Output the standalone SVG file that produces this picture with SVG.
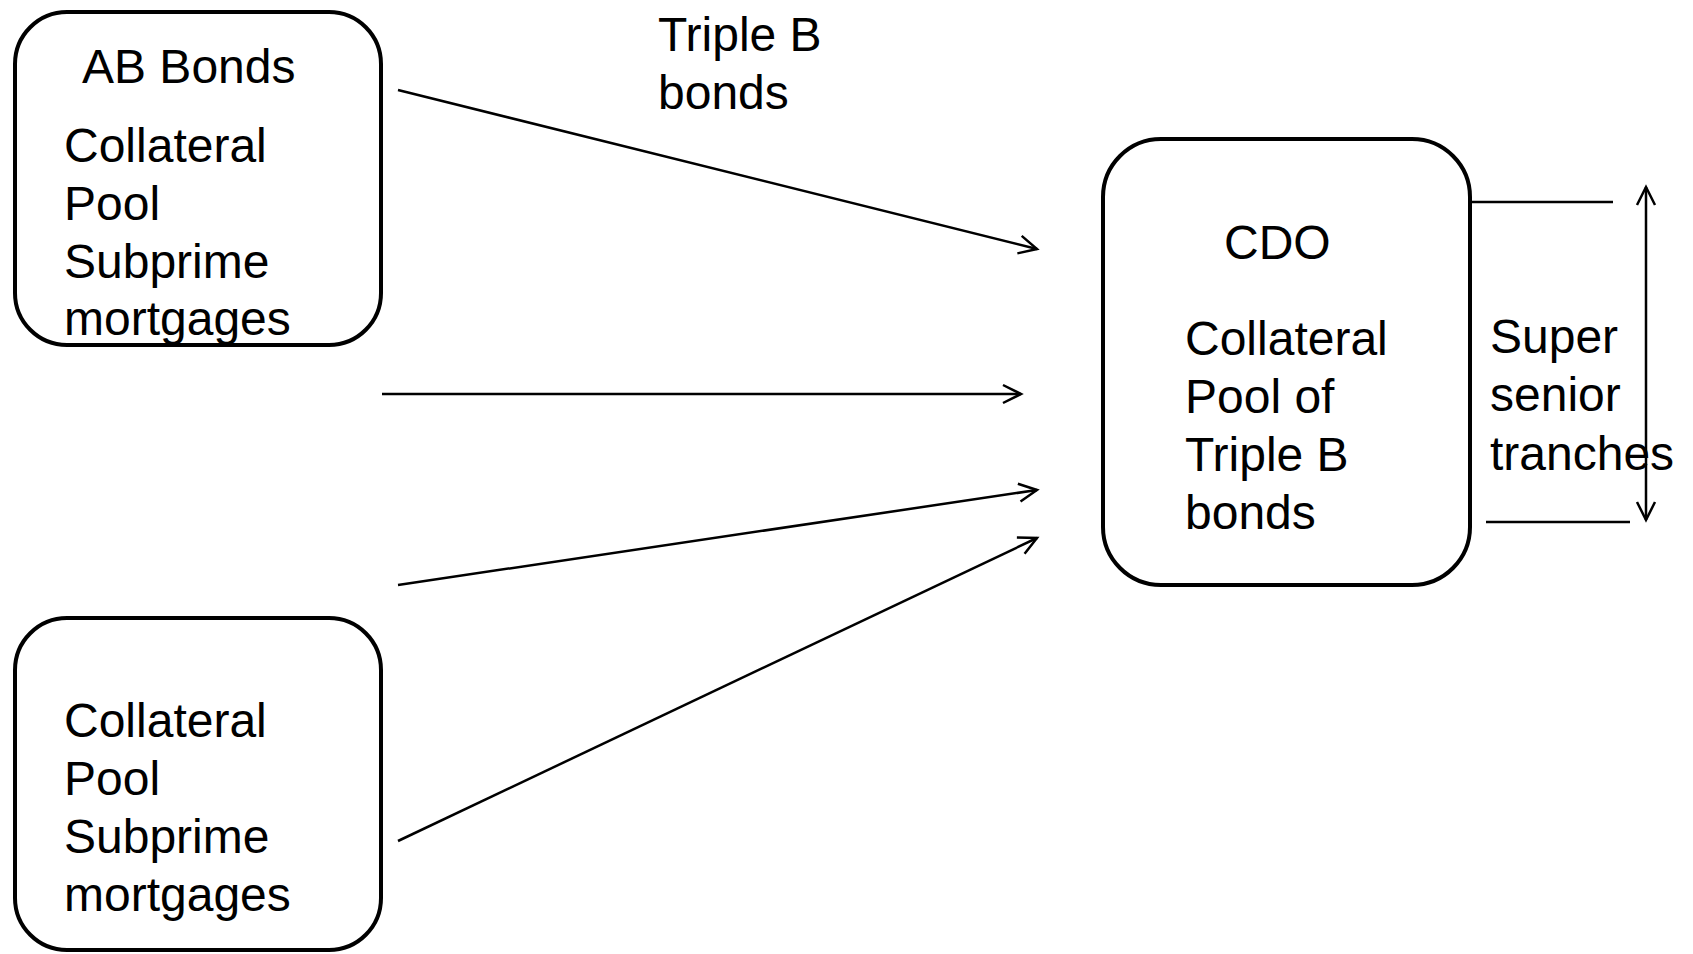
<svg xmlns="http://www.w3.org/2000/svg" width="1693" height="954" viewBox="0 0 1693 954">
<style>
.box{fill:#fff;stroke:#000;stroke-width:4}
.t{font-family:"Liberation Sans",Arial,sans-serif;font-size:48px;fill:#000}
.c{stroke:#000;stroke-width:2.5;fill:none}
</style>
<defs>
<marker id="ah" markerUnits="userSpaceOnUse" viewBox="-20 -12 24 24" refX="0" refY="0" markerWidth="24" markerHeight="24" orient="auto-start-reverse">
<path d="M-18,-9 L0,0 L-18,9" fill="none" stroke="#000" stroke-width="2.5" stroke-linejoin="miter"/>
</marker>
</defs>
<rect width="1693" height="954" fill="#fff"/>
<g id="ab-pool">
<rect class="box" x="15" y="12" width="366" height="333" rx="52" ry="52"/>
<text class="t" x="82" y="83">AB Bonds</text>
<text class="t" x="64" y="162">Collateral</text>
<text class="t" x="64" y="220">Pool</text>
<text class="t" x="64" y="278">Subprime</text>
<text class="t" x="64" y="335">mortgages</text>
</g>
<g id="pool2">
<rect class="box" x="15" y="618" width="366" height="332" rx="52" ry="52"/>
<text class="t" x="64" y="737">Collateral</text>
<text class="t" x="64" y="795">Pool</text>
<text class="t" x="64" y="853">Subprime</text>
<text class="t" x="64" y="911">mortgages</text>
</g>
<g id="cdo">
<rect class="box" x="1103" y="139" width="367" height="446" rx="58" ry="58"/>
<text class="t" x="1224" y="259">CDO</text>
<text class="t" x="1185" y="355">Collateral</text>
<text class="t" x="1185" y="413">Pool of</text>
<text class="t" x="1185" y="471">Triple B</text>
<text class="t" x="1185" y="529">bonds</text>
</g>
<g id="labels">
<text class="t" x="658" y="51">Triple B</text>
<text class="t" x="658" y="109">bonds</text>
<text class="t" x="1490" y="353">Super</text>
<text class="t" x="1490" y="411">senior</text>
<text class="t" x="1490" y="470">tranches</text>
</g>
<g id="connectors">
<line class="c" x1="398" y1="90" x2="1037" y2="249" marker-end="url(#ah)"/>
<line class="c" x1="382" y1="394" x2="1021" y2="394" marker-end="url(#ah)"/>
<line class="c" x1="398" y1="585" x2="1037" y2="490" marker-end="url(#ah)"/>
<line class="c" x1="398" y1="841" x2="1037" y2="538" marker-end="url(#ah)"/>
<line class="c" x1="1472" y1="202" x2="1613" y2="202"/>
<line class="c" x1="1486" y1="522" x2="1630" y2="522"/>
<line class="c" x1="1646" y1="187" x2="1646" y2="520" marker-start="url(#ah)" marker-end="url(#ah)"/>
</g>
</svg>
